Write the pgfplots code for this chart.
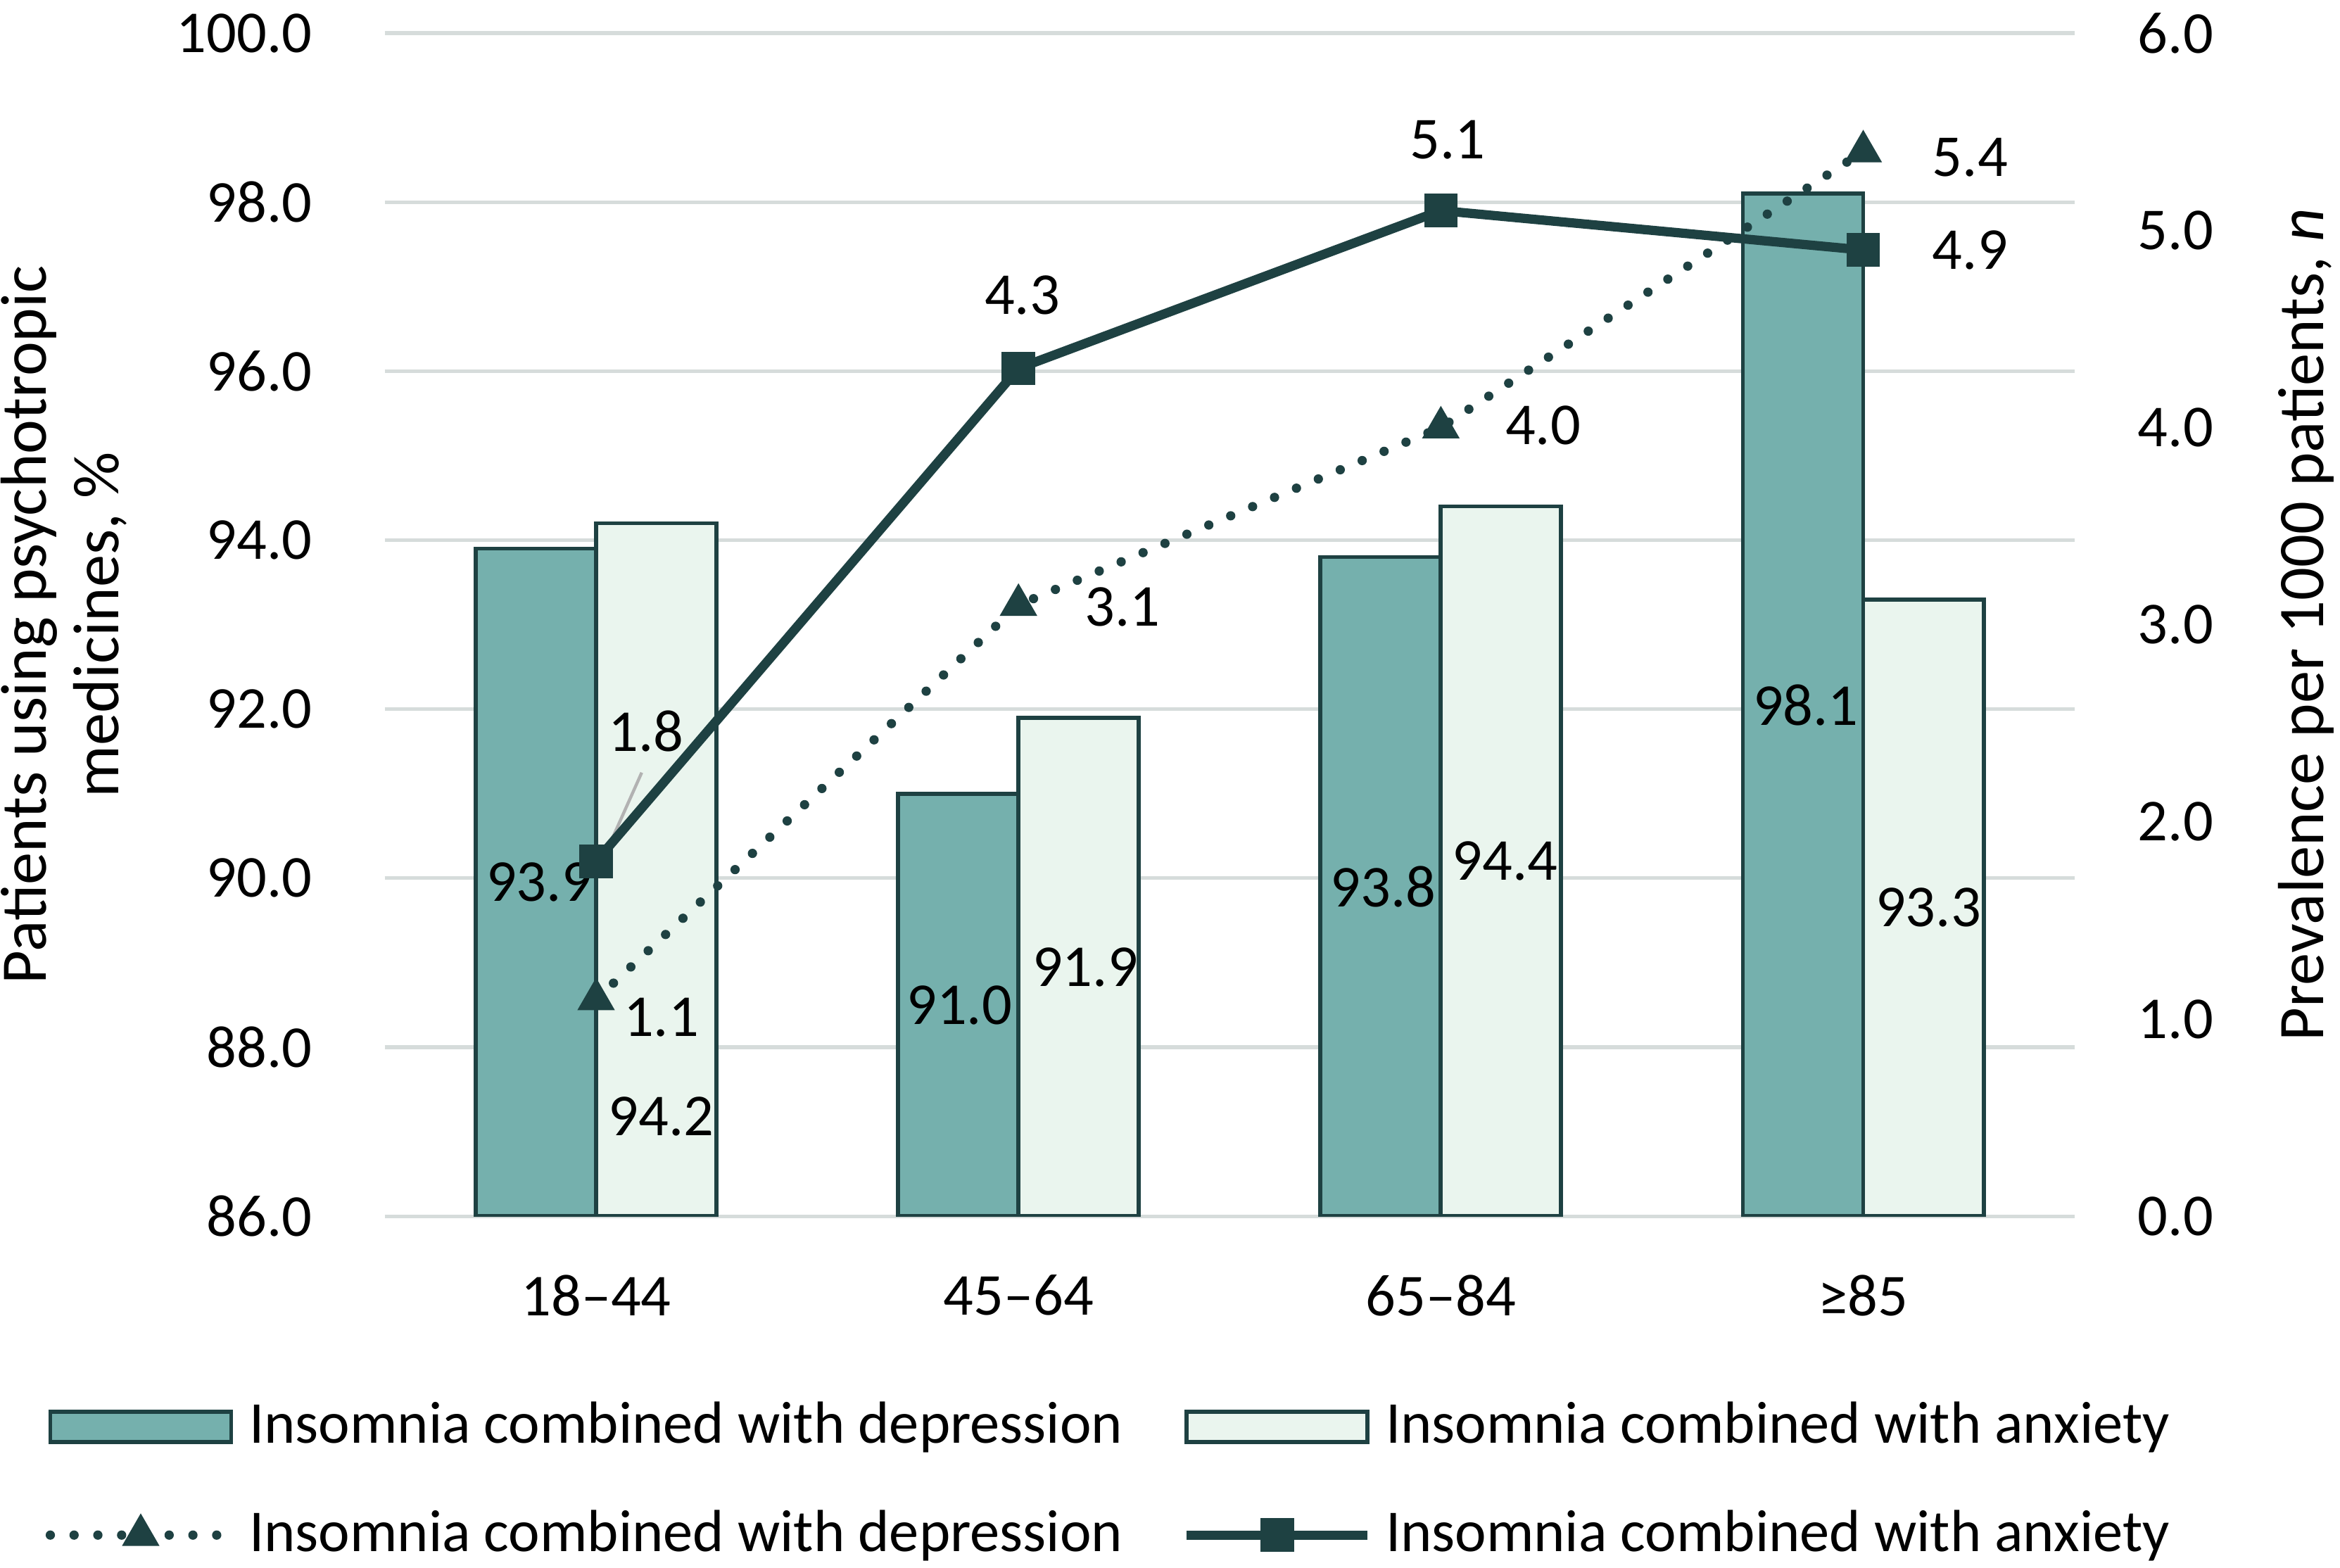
\documentclass[border=0pt]{standalone}
\usepackage{fontspec}
\setmainfont{Carlito}
\usepackage{pgfplots}
\pgfplotsset{compat=1.18}

\definecolor{dark}{HTML}{1E4142}
\definecolor{depc}{HTML}{75B0AD}
\definecolor{anxc}{HTML}{EAF5EE}
\definecolor{gridc}{HTML}{D6DCDB}

\pgfplotsset{
  base/.style={
    scale only axis, width=327pt, height=229pt,
    at={(0pt,0pt)}, anchor=south west,
    xmin=-0.5, xmax=3.5,
    /pgf/number format/assume math mode=true,
    major tick length=0pt,
    axis line style={draw=none},
  },
  barleg/.style={legend image code/.code={
    \draw[##1] (0pt,-2.9pt) rectangle (35pt,2.9pt);}},
  lineleg/.style={legend image code/.code={
    \draw[mark repeat=2, mark phase=2, ##1] plot coordinates {(0pt,0pt) (17.5pt,0pt) (35pt,0pt)};}},
}

\begin{document}
\fontsize{11.5}{13.9}\selectfont
\begin{tikzpicture}

% bars, left axis (%)
\begin{axis}[base,
    axis x line*=bottom, axis y line*=left,
    ymin=86, ymax=100, ytick={86,88,...,100},
    yticklabel style={/pgf/number format/.cd, fixed, fixed zerofill, precision=1, /tikz/.cd,
      inner sep=0pt, xshift=-13.9pt},
    xtick={0,1,2,3},
    xticklabels={18–44, 45–64, 65–84, ≥85},
    xticklabel style={anchor=center, inner sep=0pt, yshift=-15.3pt},
    ymajorgrids, grid style={draw=gridc, line width=0.7pt},
    ybar=0pt, bar width=23.3pt,
    ylabel={Patients using psychotropic\\medicines, \%},
    ylabel style={align=center, font=\fontsize{12.6}{14}\selectfont,
      at={(axis description cs:-0.19,0.5)}, anchor=center},
]
\addplot[fill=depc, draw=dark, line width=0.8pt]
  coordinates {(0,93.9) (1,91.0) (2,93.8) (3,98.1)};
\addplot[fill=anxc, draw=dark, line width=0.8pt]
  coordinates {(0,94.2) (1,91.9) (2,94.4) (3,93.3)};

\node at (axis cs:-0.135,89.95) {93.9};
\node at (axis cs:0.86,88.5) {91.0};
\node at (axis cs:1.864,89.9) {93.8};
\node at (axis cs:2.864,92.05) {98.1};
\node at (axis cs:0.154,87.18) {94.2};
\node at (axis cs:1.158,88.95) {91.9};
\node at (axis cs:2.152,90.2) {94.4};
\node at (axis cs:3.154,89.65) {93.3};
\end{axis}

% lines, right axis (per 1000 patients)
\begin{axis}[base,
    axis x line=none, axis y line*=right,
    ymin=0, ymax=6, ytick={0,1,...,6},
    yticklabel style={/pgf/number format/.cd, fixed, fixed zerofill, precision=1, /tikz/.cd,
      inner sep=0pt, xshift=12.1pt},
    ylabel={Prevalence per 1000 patients, \textit{n}},
    ylabel style={font=\fontsize{12.6}{14}\selectfont,
      at={(axis description cs:1.137,0.5)}, anchor=center},
    legend columns=2,
    legend cell align=left,
    legend style={at={(axis description cs:-0.2014,-0.2238)}, anchor=west,
      draw=none, fill=none, inner sep=0pt, row sep=6pt,
      /tikz/every even column/.append style={column sep=8.9pt},
      nodes={inner sep=2.6pt}},
]
\addlegendimage{barleg, fill=depc, draw=dark, line width=0.8pt}
\addlegendentry{Insomnia combined with depression}
\addlegendimage{barleg, fill=anxc, draw=dark, line width=0.8pt}
\addlegendentry{Insomnia combined with anxiety}

\draw[gray!60, line width=0.6pt] (axis cs:0.108,2.25) -- (axis cs:0.01,1.78);

\addplot[lineleg, dark, line width=1.8pt, line cap=round, dash pattern=on 0pt off 4.6pt,
    mark=triangle*, mark size=3.7pt, mark options={solid, line width=0.5pt, fill=dark}]
  coordinates {(0,1.1) (1,3.1) (2,4.0) (3,5.4)};
\addlegendentry{Insomnia combined with depression}
\addplot[lineleg, dark, line width=1.8pt,
    mark=square*, mark size=3pt, mark options={solid, line width=0.5pt, fill=dark}]
  coordinates {(0,1.8) (1,4.3) (2,5.1) (3,4.9)};
\addlegendentry{Insomnia combined with anxiety}

\node at (axis cs:0.118,2.46) {1.8};
\node at (axis cs:0.154,1.01) {1.1};
\node at (axis cs:1.246,3.09) {3.1};
\node at (axis cs:2.242,4.01) {4.0};
\node at (axis cs:3.253,5.37) {5.4};
\node at (axis cs:1.009,4.67) {4.3};
\node at (axis cs:2.016,5.46) {5.1};
\node at (axis cs:3.253,4.90) {4.9};
\end{axis}

\pgfresetboundingbox
\path[use as bounding box] (-74.5pt,-68pt) rectangle (378.4pt,235.4pt);
\end{tikzpicture}
\end{document}
